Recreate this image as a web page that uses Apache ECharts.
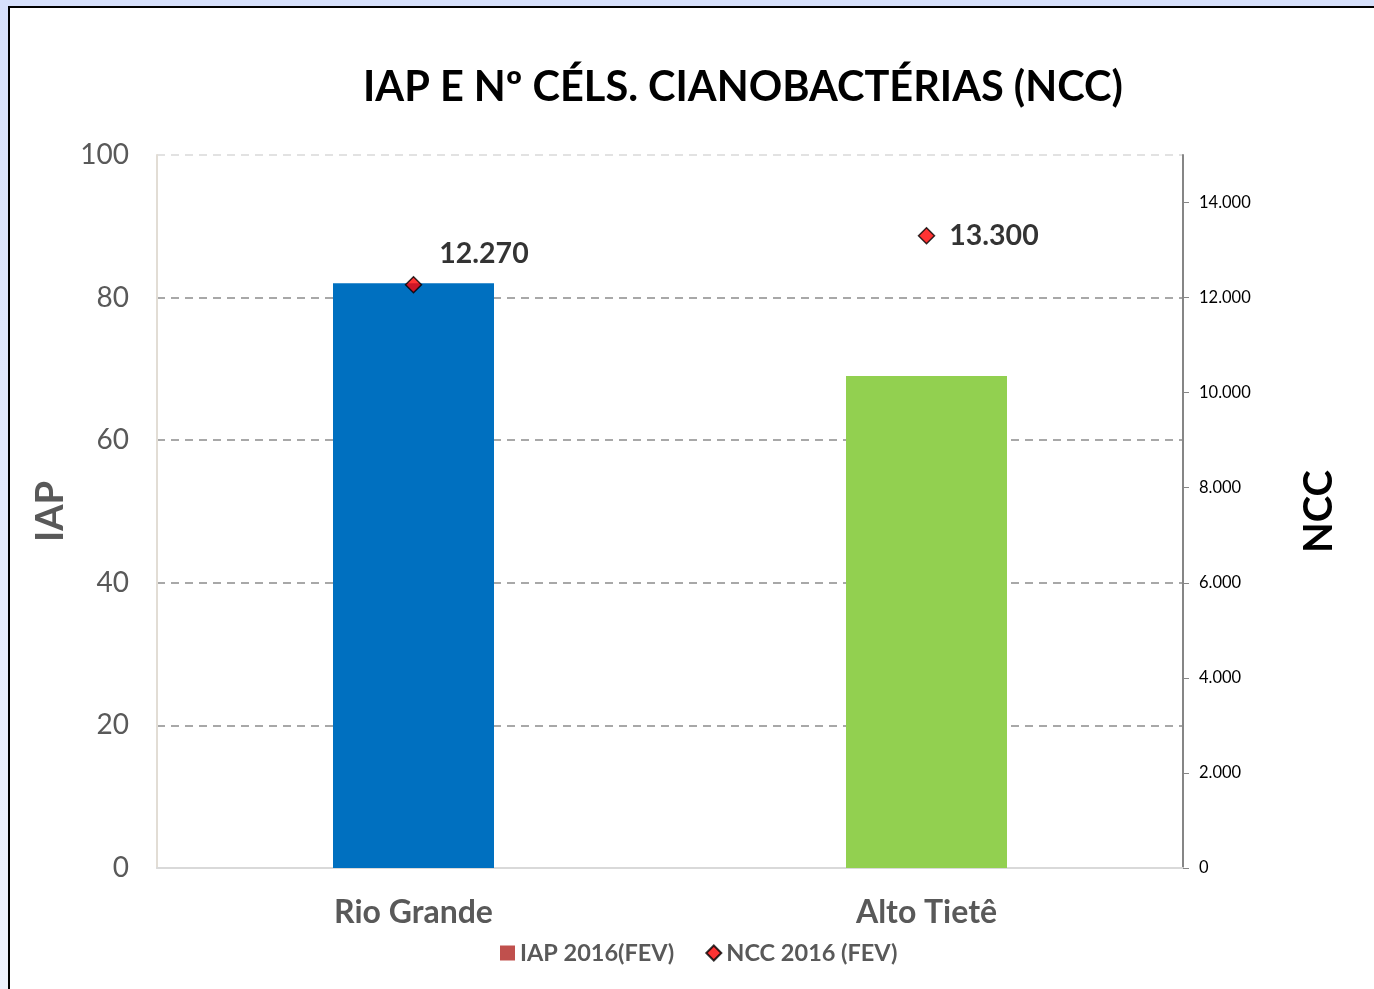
<!DOCTYPE html>
<html>
<head>
<meta charset="utf-8">
<script src="https://cdn.jsdelivr.net/npm/echarts@6/dist/echarts.min.js"></script>
<style>
    html, body { margin: 0; padding: 0; width: 1374px; height: 989px; overflow: hidden; }
    body { background: linear-gradient(to bottom, #d6e0fb, #eef2fd); position: relative; }
    #frame { position: absolute; left: 8px; top: 6px; width: 1380px; height: 1000px; background: #fff; border: 2px solid #000; }
    #main { position: absolute; left: 0; top: 0; width: 1374px; height: 989px; }
</style>
</head>
<body>
<div id="frame"></div>
<div id="main"></div>
<script>
const chart = echarts.init(document.querySelector('#main'));

// dados do gráfico
const categorias = ['Rio Grande', 'Alto Tietê'];
const iap2016 = [82, 69];
const ncc2016 = [12270, 13300];
const coresBarras = ['#0070c0', '#92d050'];
const ticksNcc = [0, 2000, 4000, 6000, 8000, 10000, 12000, 14000];

// 12270 -> 12.270
function formatoBR(v) {
    return String(v).replace(/\B(?=(\d{3})+(?!\d))/g, '.');
}

const fonte = 'Lato, "Open Sans", sans-serif';

let option = {
    backgroundColor: 'transparent',
    animation: false,
    title: {
        text: 'IAP E Nº CÉLS. CIANOBACTÉRIAS (NCC)',
        left: 358,
        top: 62,
        textStyle: { fontFamily: fonte, fontSize: 41.5, fontWeight: 'bold', color: '#000' }
    },
    legend: {
        left: 495,
        top: 936,
        itemWidth: 15,
        itemHeight: 15,
        itemGap: 31,
        textStyle: { fontFamily: fonte, fontSize: 23.5, fontWeight: 'bold', color: '#595959' },
        data: [
            { name: 'IAP 2016(FEV)', icon: 'rect' },
            { name: 'NCC 2016 (FEV)', icon: 'diamond' }
        ]
    },
    grid: { left: 157, right: 191, top: 155, bottom: 121 },
    xAxis: {
        type: 'category',
        data: categorias,
        axisLine: { lineStyle: { color: '#d9d9d9', width: 2 } },
        axisTick: { inside: true, length: 9, lineStyle: { color: '#d9d9d9' } },
        axisLabel: { fontFamily: fonte, fontSize: 32, fontWeight: 'bold', color: '#595959', margin: 29 }
    },
    yAxis: [
        {
            type: 'value',
            min: 0,
            max: 100,
            interval: 20,
            name: 'IAP',
            nameLocation: 'middle',
            nameGap: 76,
            nameTextStyle: { fontFamily: fonte, fontSize: 38, fontWeight: 'bold', color: '#595959' },
            axisLine: { show: true, lineStyle: { color: '#e2ddd5', width: 2 } },
            axisTick: { show: false },
            axisLabel: { fontFamily: fonte, fontSize: 28, color: '#595959', margin: 28 },
            splitLine: {
                lineStyle: {
                    type: [8, 6],
                    width: 1.5,
                    color: ['#d9d9d9', '#8c8c8c', '#8c8c8c', '#8c8c8c', '#8c8c8c', '#d9d9d9']
                }
            }
        },
        {
            type: 'value',
            min: 0,
            max: 15000,
            interval: 2000,
            position: 'right',
            name: 'NCC',
            nameLocation: 'middle',
            nameGap: 116,
            nameRotate: 90,
            nameTextStyle: { fontFamily: fonte, fontSize: 40, fontWeight: 'bold', color: '#000' },
            axisLine: { show: true, lineStyle: { color: '#868686', width: 2 } },
            axisTick: { show: true, length: 6, lineStyle: { color: '#868686' }, customValues: ticksNcc },
            axisLabel: {
                fontFamily: fonte, fontSize: 16.5, color: '#000', margin: 16,
                customValues: ticksNcc,
                formatter: formatoBR
            },
            splitLine: { show: false }
        }
    ],
    series: [
        {
            name: 'IAP 2016(FEV)',
            type: 'bar',
            barWidth: 161,
            itemStyle: { color: '#c0504d' },
            data: iap2016.map((v, i) => ({ value: v, itemStyle: { color: coresBarras[i] } }))
        },
        {
            name: 'NCC 2016 (FEV)',
            type: 'scatter',
            yAxisIndex: 1,
            symbol: 'diamond',
            symbolSize: 16,
            itemStyle: { color: '#ff0000', borderColor: '#000', borderWidth: 1.5 },
            label: {
                show: true,
                position: 'right',
                fontFamily: fonte,
                fontSize: 28.5,
                fontWeight: 'bold',
                color: '#000',
                formatter: (p) => formatoBR(p.value)
            },
            data: ncc2016.map((v, i) => ({
                value: v,
                label: i === 0 ? { offset: [12, -31] } : { distance: 14 }
            }))
        }
    ]
};
chart.setOption(option);
</script>
</body>
</html>
